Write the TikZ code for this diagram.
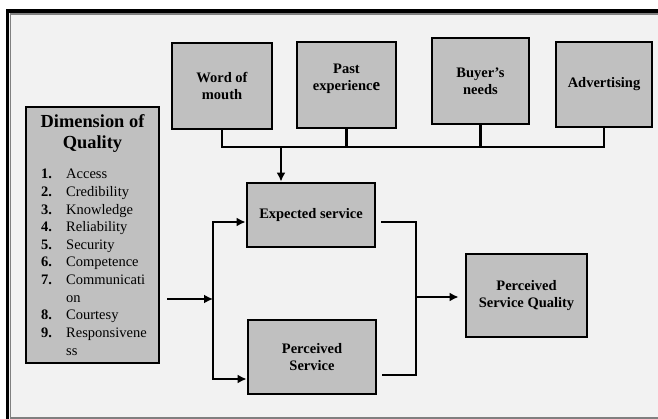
\documentclass[tikz,border=0pt]{standalone}
\usepackage{fontspec}
\setmainfont{Liberation Serif}
\usetikzlibrary{arrows.meta}
\definecolor{boxgray}{RGB}{192,192,192}
\definecolor{bggray}{RGB}{242,242,242}
\tikzset{>={Latex[length=9pt,width=9pt]}}
\tikzset{factor/.style={draw, fill=boxgray, line width=2.8pt, align=center,
  font=\bfseries\fontsize{14.5}{17}\selectfont, inner sep=2pt}}
\tikzstyle{conn} = [line width=2.8pt]
\tikzstyle{arrow} = [line width=2.8pt,->]

\begin{document}
\begin{tikzpicture}[x=1pt,y=-1pt]

\useasboundingbox (0,0) rectangle (658,419);
\fill[white] (0,0) rectangle (658,419);
\fill[bggray] (7,10) rectangle (658,419);
\draw[line width=3.5pt] (658,11) -- (7.5,11) -- (7.5,419);
\draw[gray, line width=1.5pt] (658,14) -- (10.5,14) -- (10.5,419);
\draw[gray, line width=1.5pt] (10.5,418) -- (658,418);

% factors on top
  \node[factor, minimum width=100, minimum height=86] (wom) at (222,86) {Word of\\mouth};
  \node[factor, minimum width=99, minimum height=86] (past) at (346.5,85)
    {Past\\experienc{\fontsize{17}{17}\selectfont e}\\[-1pt]\mbox{}};
  \node[factor, minimum width=97, minimum height=86] (needs) at (480.5,81) {Buyer’s\\needs};
  \node[factor, minimum width=96, minimum height=85] (adv) at (604,84.5) {Advertising};

% middle boxes
  \node[factor, minimum width=128, minimum height=64] (exp) at (311,215) {Expected service};
  \node[factor, minimum width=128, minimum height=74] (perc) at (312,357) {Perceived\\Service};
  \node[factor, minimum width=121, minimum height=83] (psq) at (526.5,295.5) {Perceived\\Service Quality};

% dimension box and its list
  \node[factor, minimum width=133, minimum height=256] (dim) at (92.5,235) {};
  \node[align=center, font=\bfseries\fontsize{18.4}{21}\selectfont, anchor=base] (dimtitle)
    at (92.5,149) {Dimension of\\Quality};
  \foreach \num/\item [count=\k] in {1./Access, 2./Credibility, 3./Knowledge, 4./Reliability,
      5./Security, 6./Competence, 7./Communicati, /on, 8./Courtesy, 9./Responsivene, /ss} {
    \node[anchor=base west, inner sep=0pt, font=\bfseries\fontsize{14.5}{17}\selectfont]
      (num\k) at (41,161.4+17.6*\k) {\num};
    \node[anchor=base west, inner sep=0pt, font=\fontsize{14.5}{17}\selectfont]
      (item\k) at (66,161.4+17.6*\k) {\item};
  }

% connectors
\coordinate (bar) at (222,147);
\coordinate (drop) at (281,147);
\coordinate (split) at (213,299);
\coordinate (join) at (416,297);

\draw[conn] (wom.south) |- (bar) -| (adv.south);
\draw[conn] (past.south) -- (past.south |- bar);
\draw[conn] (needs.south) -- (needs.south |- bar);
\draw[arrow] (drop) -- (drop |- exp.north);

\draw[arrow] ([xshift=7pt]dim.east |- split) -- (split);
\draw[arrow] (split) |- ([yshift=-7pt]exp.west);
\draw[arrow] (split) |- ([yshift=-22pt]perc.west);

\draw[conn] ([xshift=5pt,yshift=-7pt]exp.east) -| (join);
\draw[conn] ([xshift=5pt,yshift=-18pt]perc.east) -| (join);
\draw[arrow] (join) -- ([xshift=-6pt]psq.west |- join);

\end{tikzpicture}
\end{document}
